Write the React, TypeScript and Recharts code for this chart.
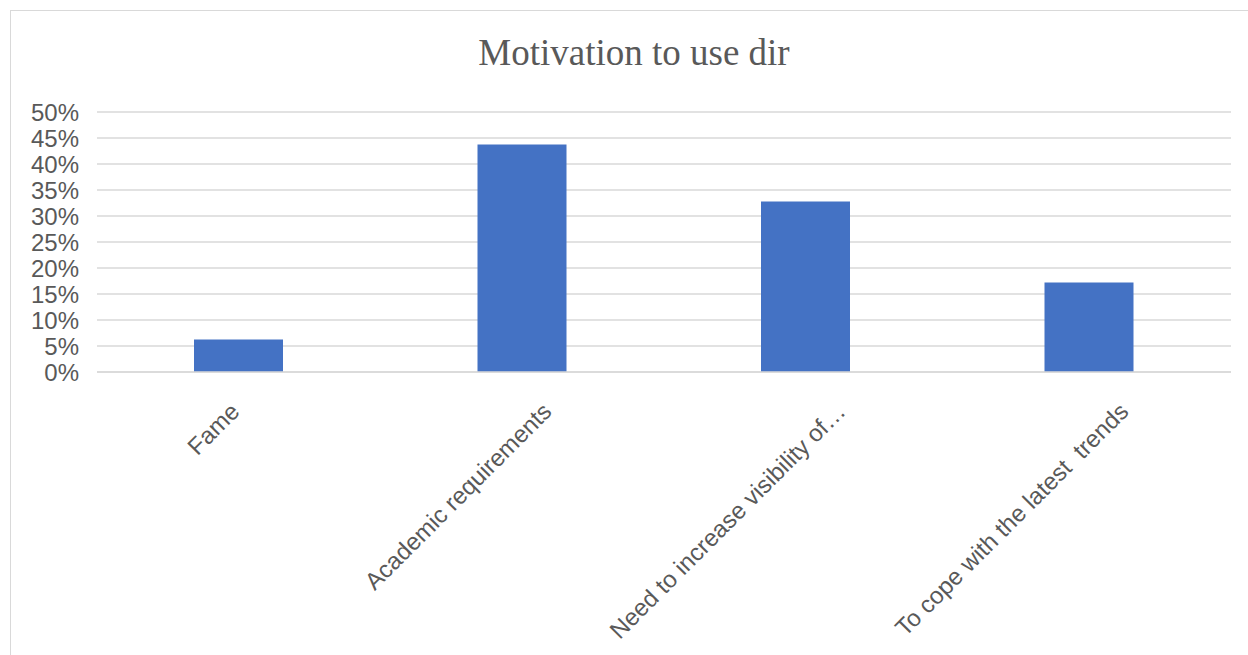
import React from 'react';
import { BarChart, Bar, XAxis, YAxis, CartesianGrid } from 'recharts';

// Share of respondents per motivation
const categories = [
  'Fame',
  'Academic requirements',
  'Need to increase visibility of…',
  'To cope with the latest  trends',
];
const shares = [0.0625, 0.4375, 0.3281, 0.1719];
const yTicks = [0, 0.05, 0.1, 0.15, 0.2, 0.25, 0.3, 0.35, 0.4, 0.45, 0.5];

const data = categories.map((name, i) => ({ name, value: shares[i] }));

const TEXT_GREY = '#595959';
const GRID_GREY = '#d9d9d9';
const LABEL_FONT = '24px "Liberation Sans", Arial, sans-serif';

let measureCtx: CanvasRenderingContext2D | null = null;
function textWidth(s: string): number {
  if (!measureCtx) {
    const c = document.createElement('canvas');
    measureCtx = c.getContext('2d');
  }
  if (!measureCtx) return s.length * 12;
  measureCtx.font = LABEL_FONT;
  return measureCtx.measureText(s).width;
}

// Category label rotated by -45deg; longer labels slide a little to the right
function SlantedTick(props: any) {
  const { x, y, payload } = props;
  const label: string = payload.value;
  const w = textWidth(label);
  const ax = x + 0.15 * w - 7;
  const ay = y + 41;
  return (
    <text
      x={ax}
      y={ay}
      textAnchor="end"
      fill={TEXT_GREY}
      style={{ font: LABEL_FONT, whiteSpace: 'pre' }}
      transform={`rotate(-45 ${ax} ${ay})`}
    >
      {label}
    </text>
  );
}

export default function App() {
  return (
    <div
      style={{
        position: 'absolute',
        left: 0,
        top: 0,
        width: 1248,
        height: 655,
        background: '#ffffff',
        overflow: 'hidden',
      }}
    >
      <div
        style={{
          position: 'absolute',
          left: 10,
          top: 10,
          right: -20,
          bottom: -20,
          borderTop: `1.5px solid ${GRID_GREY}`,
          borderLeft: `1.5px solid ${GRID_GREY}`,
        }}
      />
      <div
        style={{
          position: 'absolute',
          left: 134,
          top: 34,
          width: 1000,
          textAlign: 'center',
          fontFamily: '"Liberation Serif", "Times New Roman", serif',
          fontSize: 37,
          lineHeight: '37px',
          color: TEXT_GREY,
        }}
      >
        Motivation to use dir
      </div>
      <div style={{ position: 'absolute', left: 0, top: 0 }}>
        <BarChart
          width={1248}
          height={655}
          data={data}
          margin={{ top: 112, right: 17, left: 10, bottom: 0 }}
        >
          <CartesianGrid vertical={false} stroke={GRID_GREY} strokeWidth={1.5} />
          <XAxis
            dataKey="name"
            height={283}
            interval={0}
            tickLine={false}
            tickSize={0}
            tickMargin={0}
            axisLine={{ stroke: GRID_GREY, strokeWidth: 1.5 }}
            tick={<SlantedTick />}
          />
          <YAxis
            width={87}
            domain={[0, 0.5]}
            ticks={yTicks}
            interval={0}
            axisLine={false}
            tickLine={false}
            tickSize={0}
            tickMargin={18}
            tickFormatter={(v: number) => `${Math.round(v * 100)}%`}
            tick={{ fill: TEXT_GREY, fontSize: 24, fontFamily: '"Liberation Sans", Arial, sans-serif' }}
          />
          <Bar dataKey="value" fill="#4472C4" barSize={89} isAnimationActive={false} />
        </BarChart>
      </div>
    </div>
  );
}
